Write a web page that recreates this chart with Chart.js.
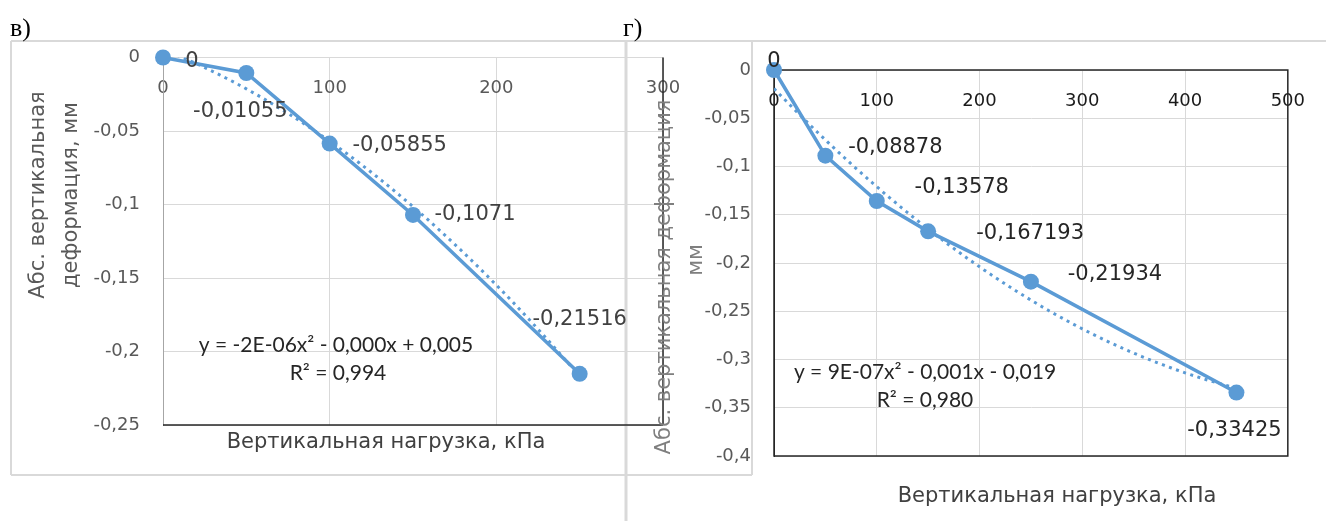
<!DOCTYPE html>
<html><head><meta charset="utf-8">
<script src="https://cdn.jsdelivr.net/npm/chart.js@4.4.1/dist/chart.umd.min.js"></script>
<style>
html,body{margin:0;padding:0;background:#fff;}
#wrap{position:relative;width:1326px;height:521px;overflow:hidden;background:#fff;}
canvas{position:absolute;left:0;top:0;}
</style></head><body>
<div id="wrap"><canvas id="c1" width="1326" height="521"></canvas><canvas id="c2" width="1326" height="521"></canvas></div>
<script>
// ---- data (panel в) ----
const loadV = [0, 50, 100, 150, 250];
const deformV = [0, -0.01055, -0.05855, -0.1071, -0.21516];
const xTicksV = [0, 100, 200, 300];
const yTicksV = [0, -0.05, -0.1, -0.15, -0.2, -0.25];
// ---- data (panel г) ----
const loadG = [0, 50, 100, 150, 250, 450];
const deformG = [0, -0.08878, -0.13578, -0.167193, -0.21934, -0.33425];
const xTicksG = [0, 100, 200, 300, 400, 500];
const yTicksG = [0, -0.05, -0.1, -0.15, -0.2, -0.25, -0.3, -0.35, -0.4];
// ---- texts ----
const panelV = 'в)';
const panelG = 'г)';
const titleX = 'Вертикальная нагрузка, кПа';
const titleYV = ['Абс. вертикальная', 'деформация, мм'];
const titleYG = ['Абс. вертикальная деформация', 'мм'];
const eqV = ['y = -2E-06x² - 0,000x + 0,005', 'R² = 0,994'];
const eqG = ['y = 9E-07x² - 0,001x - 0,019', 'R² = 0,980'];
const labelsV = ['0', '-0,01055', '-0,05855', '-0,1071', '-0,21516'];
const labelsG = ['0', '-0,08878', '-0,13578', '-0,167193', '-0,21934', '-0,33425'];

// label offsets (style) relative to points
const offV = [[29, 4], [-6, 39], [70, 2], [62, 0], [0, -54]];
const offG = [[0, -8], [70, -8], [85, -13], [102, 2], [84, -7], [-2, 38]];

const BLUE = '#5b9bd5';
const FONT = "'DejaVu Sans', 'Open Sans', sans-serif";
const EQFONT = "Lato, 'Open Sans', sans-serif";

function fmt(v) {
  const r = Math.round(v * 1000) / 1000;
  return String(r === 0 ? 0 : r).replace('.', ',');
}

function fitQuad(xs, ys) {
  const s = [0, 0, 0, 0, 0], t = [0, 0, 0];
  for (let i = 0; i < xs.length; i++) {
    let p = 1;
    for (let k = 0; k < 5; k++) { s[k] += p; if (k < 3) t[k] += p * ys[i]; p *= xs[i]; }
  }
  const M = [[s[0], s[1], s[2], t[0]], [s[1], s[2], s[3], t[1]], [s[2], s[3], s[4], t[2]]];
  for (let i = 0; i < 3; i++) {
    for (let j = i + 1; j < 3; j++) {
      const f = M[j][i] / M[i][i];
      for (let k = i; k < 4; k++) M[j][k] -= f * M[i][k];
    }
  }
  const r = [0, 0, 0];
  for (let i = 2; i >= 0; i--) {
    let v = M[i][3];
    for (let k = i + 1; k < 3; k++) v -= M[i][k] * r[k];
    r[i] = v / M[i][i];
  }
  return r; // c, b, a
}

function trendOf(xs, ys) {
  const [c, b, a] = fitQuad(xs, ys);
  const pts = [];
  const xmax = xs[xs.length - 1];
  for (let x = xs[0]; x <= xmax + 1e-9; x += 2) pts.push({ x: x, y: c + b * x + a * x * x });
  return pts;
}

function text(ctx, s, x, y, font, color, align, rot) {
  ctx.save();
  ctx.font = font;
  ctx.fillStyle = color;
  ctx.textAlign = align || 'center';
  ctx.textBaseline = 'middle';
  ctx.translate(x, y);
  if (rot) ctx.rotate(rot);
  ctx.fillText(s, 0, 0);
  ctx.restore();
}

function line(ctx, x1, y1, x2, y2, color, w) {
  ctx.save();
  ctx.strokeStyle = color; ctx.lineWidth = w;
  ctx.beginPath(); ctx.moveTo(x1, y1); ctx.lineTo(x2, y2); ctx.stroke();
  ctx.restore();
}

function makeChart(id, cfg) {
  const pts = cfg.xs.map((x, i) => ({ x: x, y: cfg.ys[i] }));
  return new Chart(document.getElementById(id), {
    type: 'line',
    data: {
      datasets: [
        { data: pts, borderColor: BLUE, backgroundColor: BLUE, borderWidth: 3.5, pointRadius: 8,
          pointHoverRadius: 8, pointBorderWidth: 0, pointBackgroundColor: BLUE, tension: 0, clip: false, order: 0 },
        { data: trendOf(cfg.xs, cfg.ys), borderColor: BLUE, borderWidth: 3, borderDash: [3, 4.5],
          pointRadius: 0, tension: 0, clip: 0, order: 1, fill: false }
      ]
    },
    options: {
      responsive: false, animation: false, devicePixelRatio: 1, events: [],
      layout: { padding: cfg.pad },
      plugins: { legend: { display: false }, tooltip: { enabled: false } },
      scales: {
        x: {
          type: 'linear', position: { y: 0 },
          min: cfg.xTicks[0], max: cfg.xTicks[cfg.xTicks.length - 1],
          afterBuildTicks: s => { s.ticks = cfg.xTicks.map(v => ({ value: v })); },
          afterFit: s => { s.height = 0; },
          grid: { color: '#d9d9d9', lineWidth: 1, drawTicks: false },
          border: { display: false },
          ticks: { padding: cfg.xPad, font: { family: FONT, size: 18 }, color: cfg.xTickColor,
                   callback: v => fmt(v), maxRotation: 0, autoSkip: false }
        },
        y: {
          type: 'linear', position: 'left',
          min: cfg.yTicks[cfg.yTicks.length - 1], max: cfg.yTicks[0],
          afterBuildTicks: s => { s.ticks = cfg.yTicks.slice().reverse().map(v => ({ value: v })); },
          afterFit: s => { s.width = cfg.yWidth; },
          grid: { color: '#d9d9d9', lineWidth: 1, drawTicks: false },
          border: { color: cfg.yBorder, width: 1 },
          ticks: { padding: 23, font: { family: FONT, size: 18 }, color: '#595959',
                   callback: v => fmt(v), autoSkip: false }
        }
      }
    },
    plugins: [{
      id: 'deco',
      beforeDraw(chart) { if (cfg.before) cfg.before(chart.ctx, chart); },
      beforeDatasetsDraw(chart) { if (cfg.frame) cfg.frame(chart.ctx, chart.chartArea); },
      afterDatasetsDraw(chart) {
        const ctx = chart.ctx;
        const meta = chart.getDatasetMeta(0);
        meta.data.forEach((el, i) => {
          text(ctx, cfg.labels[i], el.x + cfg.off[i][0], el.y + cfg.off[i][1],
               '21px ' + FONT, cfg.labelColor, 'center');
        });
      },
      afterDraw(chart) { cfg.after(chart.ctx, chart.chartArea); }
    }]
  });
}

// ---- panel в ----
makeChart('c1', {
  xs: loadV, ys: deformV, xTicks: xTicksV, yTicks: yTicksV, labels: labelsV, off: offV,
  pad: { left: 0, top: 57.5, right: 663, bottom: 96 }, yWidth: 163, xPad: 20,
  xTickColor: '#595959', yBorder: '#a6a6a6', labelColor: '#404040',
  before(ctx) {
    line(ctx, 11, 41, 1326, 41, '#d9d9d9', 2);
    line(ctx, 11, 41, 11, 475, '#d9d9d9', 2);
    line(ctx, 11, 475, 752, 475, '#d9d9d9', 2);
    line(ctx, 752, 41, 752, 475, '#d9d9d9', 2);
    line(ctx, 626, 41, 626, 521, '#d9d9d9', 3);
  },
  frame(ctx, a) {
    line(ctx, a.left, a.bottom, a.right, a.bottom, '#262626', 1.5);
    line(ctx, a.right, a.top, a.right, a.bottom, '#262626', 1.5);
  },
  after(ctx, a) {
    text(ctx, panelV, 10, 29, "26px 'Liberation Serif', serif", '#000', 'left');
    text(ctx, panelG, 623, 29, "26px 'Liberation Serif', serif", '#000', 'left');
    text(ctx, titleYV[0], 39, 195, '21px ' + FONT, '#595959', 'center', -Math.PI / 2);
    text(ctx, titleYV[1], 72, 195, '21px ' + FONT, '#595959', 'center', -Math.PI / 2);
    text(ctx, titleX, 386, 443, '21px ' + FONT, '#404040', 'center');
    text(ctx, eqV[0], 336, 345, '21px ' + EQFONT, '#262626', 'center');
    text(ctx, eqV[1], 338, 373, '21px ' + EQFONT, '#262626', 'center');
  }
});

// ---- panel г ----
makeChart('c2', {
  xs: loadG, ys: deformG, xTicks: xTicksG, yTicks: yTicksG, labels: labelsG, off: offG,
  pad: { left: 0, top: 70, right: 37, bottom: 65 }, yWidth: 774, xPad: 21,
  xTickColor: '#1a1a1a', yBorder: '#262626', labelColor: '#262626',
  frame(ctx, a) {
    ctx.save();
    ctx.strokeStyle = '#262626'; ctx.lineWidth = 1.5;
    ctx.strokeRect(a.left, a.top, a.right - a.left, a.bottom - a.top);
    ctx.restore();
  },
  after(ctx, a) {
    text(ctx, titleYG[0], 665, 277, '21px ' + FONT, '#7f7f7f', 'center', -Math.PI / 2);
    text(ctx, titleYG[1], 697, 260, '21px ' + FONT, '#7f7f7f', 'center', -Math.PI / 2);
    text(ctx, titleX, 1057, 497, '21px ' + FONT, '#404040', 'center');
    text(ctx, eqG[0], 925, 372, '21px ' + EQFONT, '#262626', 'center');
    text(ctx, eqG[1], 925, 400, '21px ' + EQFONT, '#262626', 'center');
  }
});
</script>
</body></html>
